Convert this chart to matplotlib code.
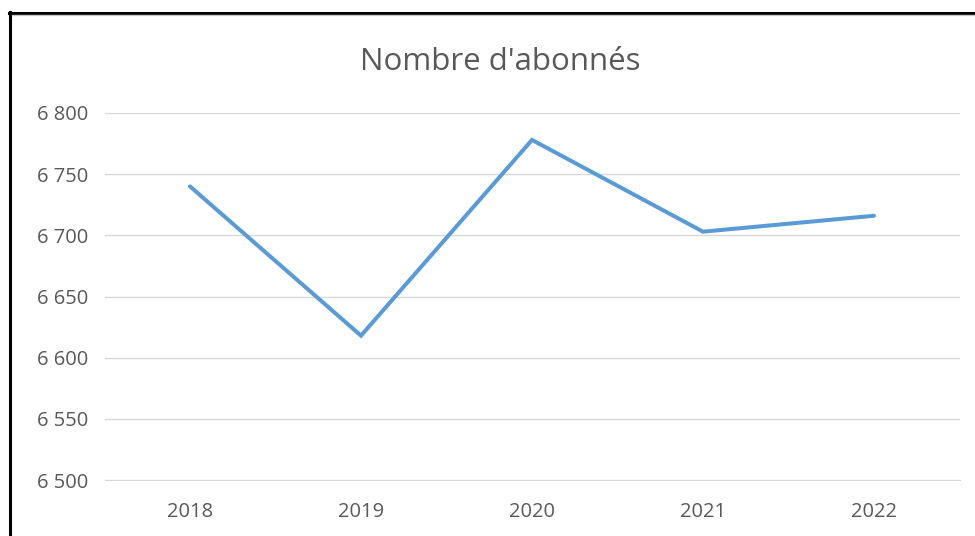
import matplotlib
matplotlib.use("Agg")
import matplotlib.pyplot as plt
from matplotlib.lines import Line2D
from matplotlib.ticker import FuncFormatter

years = ["2018", "2019", "2020", "2021", "2022"]
subscribers = [6740, 6618, 6778, 6703, 6716]
yticks = [6500, 6550, 6600, 6650, 6700, 6750, 6800]
title = "Nombre d'abonnés"

W, H = 975, 536
fig = plt.figure(figsize=(W / 100, H / 100), dpi=100)
ax = fig.add_axes([104.5 / W, 1 - 480 / H, (959.5 - 104.5) / W, (480 - 113) / H])

x = list(range(len(years)))
ax.plot(x, subscribers, color="#5B9BD5", linewidth=2.9, solid_capstyle="round", solid_joinstyle="miter")
ax.set_xlim(-0.5, len(years) - 0.5)
ax.set_ylim(yticks[0], yticks[-1])
ax.set_yticks(yticks)
ax.set_xticks(x)
ax.set_xticklabels(years)
ax.yaxis.set_major_formatter(FuncFormatter(lambda v, p: f"{int(v):,}".replace(",", " ")))
ax.grid(axis="y", color="#D9D9D9", linewidth=1)
ax.set_axisbelow(True)
for s in ax.spines.values():
    s.set_visible(False)
ax.spines["bottom"].set_visible(True)
ax.spines["bottom"].set_color("#D9D9D9")
ax.tick_params(length=0, labelsize=14.5, labelcolor="#595959")
ax.tick_params(axis="x", pad=16)
ax.tick_params(axis="y", pad=11.5)
for lbl in ax.get_xticklabels() + ax.get_yticklabels():
    lbl.set_fontfamily("Open Sans")

fig.text(500 / W, 1 - 70 / H, title, ha="center", va="baseline", fontsize=22.5,
         color="#595959", family="Open Sans")

# outer chart border (left and top visible)
fig.add_artist(Line2D([10 / W, 10 / W], [0, 1 - 12 / H], transform=fig.transFigure, color="black", linewidth=2.2))
fig.add_artist(Line2D([9 / W, 1], [1 - 13 / H, 1 - 13 / H], transform=fig.transFigure, color="black", linewidth=2.2))
fig.add_artist(Line2D([11.5 / W, 1], [1 - 15 / H, 1 - 15 / H], transform=fig.transFigure, color="#C8C8C8", linewidth=1))

fig.savefig("out.png", dpi=100)
